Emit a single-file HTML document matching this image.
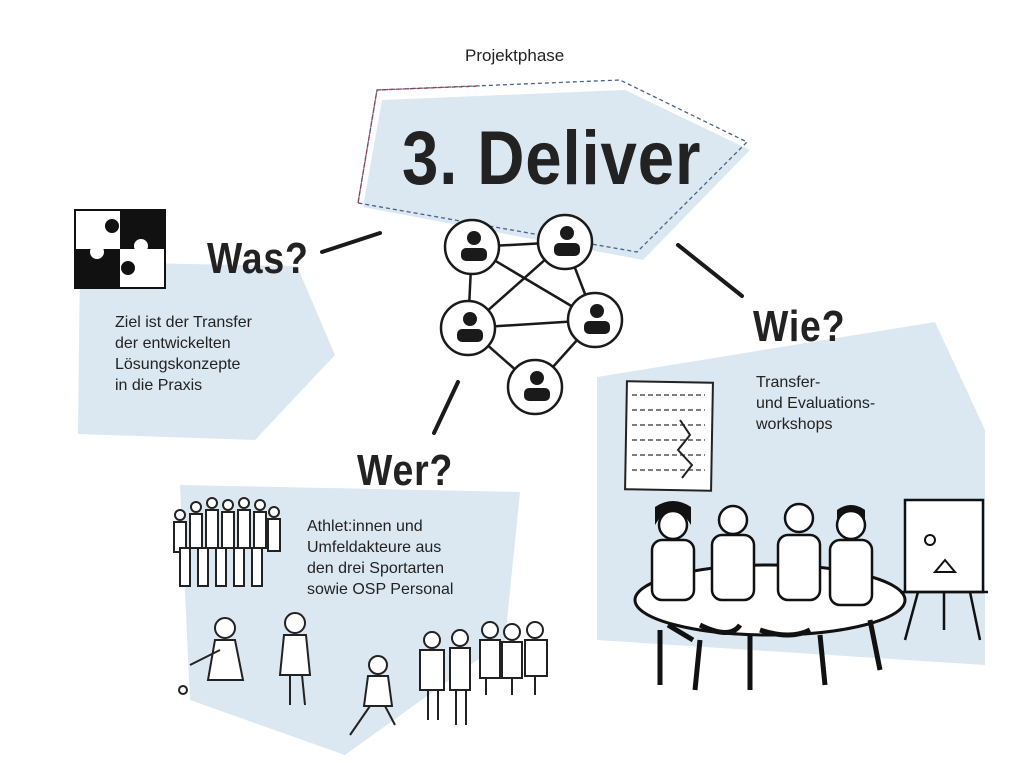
<!DOCTYPE html>
<html><head><meta charset="utf-8"><style>
body{margin:0;width:1024px;height:779px;background:#fff;overflow:hidden;font-family:"Liberation Sans",sans-serif;}
svg{position:absolute;left:0;top:0}
.t{position:absolute;color:#222;font-size:16px;line-height:21px}
.h{position:absolute;font-family:"Liberation Sans",sans-serif;font-weight:bold;color:#222;font-size:44px;letter-spacing:1px;transform:scaleX(0.85);transform-origin:left top}
</style></head><body>
<svg width="1024" height="779">
<g fill="#dbe7f1">
<polygon points="382,100 625,90 750,150 643,260 363,207"/>
<polygon points="80,262 297,266 335,355 255,440 78,434"/>
<polygon points="180,485 520,492 505,640 345,755 190,700"/>
<polygon points="597,377 935,322 985,430 985,665 597,640"/>
</g>
<polyline points="377,90 620,80 747,142 637,252 358,203 377,90" fill="none" stroke="#46638a" stroke-width="1.3" stroke-dasharray="4,3"/>
<polyline points="358,203 377,90 480,86" fill="none" stroke="#a0374f" stroke-width="1.3" stroke-dasharray="4,3"/>
<g stroke="#1a1a1a" stroke-width="4" stroke-linecap="round">
<line x1="322" y1="252" x2="380" y2="233"/>
<line x1="678" y1="245" x2="742" y2="296"/>
<line x1="458" y1="382" x2="434" y2="433"/>
</g>
<g stroke="#1a1a1a" stroke-width="2.5">
<line x1="472" y1="247" x2="565" y2="242"/><line x1="472" y1="247" x2="595" y2="320"/>
<line x1="472" y1="247" x2="468" y2="328"/><line x1="565" y1="242" x2="468" y2="328"/>
<line x1="565" y1="242" x2="595" y2="320"/><line x1="468" y1="328" x2="595" y2="320"/>
<line x1="468" y1="328" x2="535" y2="387"/><line x1="595" y1="320" x2="535" y2="387"/>
</g>
<g fill="#fff" stroke="#1a1a1a" stroke-width="2.5">
<circle cx="472" cy="247" r="27"/><circle cx="565" cy="242" r="27"/><circle cx="468" cy="328" r="27"/><circle cx="595" cy="320" r="27"/><circle cx="535" cy="387" r="27"/>
</g>
<g fill="#1a1a1a">
<circle cx="474" cy="238" r="7"/><rect x="461" y="248" width="26" height="13" rx="5"/>
<circle cx="567" cy="233" r="7"/><rect x="554" y="243" width="26" height="13" rx="5"/>
<circle cx="470" cy="319" r="7"/><rect x="457" y="329" width="26" height="13" rx="5"/>
<circle cx="597" cy="311" r="7"/><rect x="584" y="321" width="26" height="13" rx="5"/>
<circle cx="537" cy="378" r="7"/><rect x="524" y="388" width="26" height="13" rx="5"/>
</g>
<rect x="75" y="210" width="90" height="78" fill="#fff" stroke="#111" stroke-width="2"/>
<rect x="75" y="249" width="45" height="39" fill="#111"/><rect x="120" y="210" width="45" height="39" fill="#111"/>
<circle cx="112" cy="226" r="7" fill="#111"/><circle cx="141" cy="246" r="7" fill="#fff"/>
<circle cx="97" cy="252" r="7" fill="#fff"/><circle cx="128" cy="268" r="7" fill="#111"/>
<rect x="626" y="382" width="86" height="108" fill="#fff" stroke="#222" stroke-width="2" transform="rotate(1 670 436)"/>
<g stroke="#555" stroke-width="1.5" stroke-dasharray="5,3"><line x1="632" y1="395" x2="705" y2="395"/><line x1="632" y1="410" x2="705" y2="410"/><line x1="632" y1="425" x2="705" y2="425"/><line x1="632" y1="440" x2="705" y2="440"/><line x1="632" y1="455" x2="705" y2="455"/><line x1="632" y1="470" x2="705" y2="470"/></g>
<polyline points="680,420 690,435 678,450 692,465 682,478" fill="none" stroke="#222" stroke-width="2"/>
<ellipse cx="770" cy="600" rx="135" ry="35" fill="#fff" stroke="#111" stroke-width="3"/>
<g fill="#fff" stroke="#111" stroke-width="2.5">
<rect x="652" y="540" width="42" height="60" rx="10"/><rect x="712" y="535" width="42" height="65" rx="10"/><rect x="778" y="535" width="42" height="65" rx="10"/><rect x="830" y="540" width="42" height="65" rx="10"/>
<circle cx="673" cy="525" r="14"/><circle cx="733" cy="520" r="14"/><circle cx="799" cy="518" r="14"/><circle cx="851" cy="525" r="14"/>
</g>
<g fill="#111"><path d="M655,525 q18,-30 36,0 l0,-18 q-18,-12 -36,0z"/><path d="M837,520 q14,-18 28,0 l0,-10 q-14,-10 -28,0z"/></g>
<g stroke="#111" stroke-width="5" fill="none">
<path d="M660,630 l0,55 M700,640 l-5,50 M750,635 l0,55 M820,635 l5,50 M870,620 l10,50 M668,625 l25,15"/>
<path d="M700,625 q30,15 40,0 M760,630 q30,10 50,0"/>
</g>
<rect x="905" y="500" width="78" height="92" fill="#fff" stroke="#111" stroke-width="2.5"/>
<g stroke="#111" stroke-width="2.5"><line x1="918" y1="592" x2="905" y2="640"/><line x1="970" y1="592" x2="980" y2="640"/><line x1="944" y1="592" x2="944" y2="630"/><line x1="900" y1="592" x2="988" y2="592"/></g>
<circle cx="930" cy="540" r="5" fill="none" stroke="#111" stroke-width="2"/><polygon points="935,572 945,560 955,572" fill="none" stroke="#111" stroke-width="2"/>
<g fill="#fff" stroke="#222" stroke-width="2">
<circle cx="180" cy="515" r="5"/><circle cx="196" cy="507" r="5"/><circle cx="212" cy="503" r="5"/><circle cx="228" cy="505" r="5"/><circle cx="244" cy="503" r="5"/><circle cx="260" cy="505" r="5"/><circle cx="274" cy="512" r="5"/>
<rect x="174" y="522" width="12" height="30"/><rect x="190" y="514" width="12" height="34"/><rect x="206" y="510" width="12" height="38"/><rect x="222" y="512" width="12" height="36"/><rect x="238" y="510" width="12" height="38"/><rect x="254" y="512" width="12" height="36"/><rect x="268" y="519" width="12" height="32"/>
<rect x="180" y="548" width="10" height="38"/><rect x="198" y="548" width="10" height="38"/><rect x="216" y="548" width="10" height="38"/><rect x="234" y="548" width="10" height="38"/><rect x="252" y="548" width="10" height="38"/>
<circle cx="225" cy="628" r="10"/><path d="M215,640 l20,0 l8,40 l-35,0z"/><line x1="190" y1="665" x2="220" y2="650"/>
<circle cx="295" cy="623" r="10"/><path d="M284,635 l22,0 l4,40 l-30,0z"/><line x1="290" y1="675" x2="290" y2="705"/><line x1="302" y1="675" x2="305" y2="705"/>
<circle cx="378" cy="665" r="9"/><path d="M368,676 l20,0 l4,30 l-28,0z"/><line x1="370" y1="706" x2="350" y2="735"/><line x1="385" y1="706" x2="395" y2="725"/>
<circle cx="432" cy="640" r="8"/><circle cx="460" cy="638" r="8"/><circle cx="490" cy="630" r="8"/><circle cx="512" cy="632" r="8"/><circle cx="535" cy="630" r="8"/>
<rect x="420" y="650" width="24" height="40"/><rect x="450" y="648" width="20" height="42"/><rect x="480" y="640" width="20" height="38"/><rect x="502" y="642" width="20" height="36"/><rect x="525" y="640" width="22" height="36"/>
<line x1="428" y1="690" x2="428" y2="720"/><line x1="438" y1="690" x2="438" y2="720"/><line x1="456" y1="690" x2="456" y2="725"/><line x1="466" y1="690" x2="466" y2="725"/><line x1="486" y1="678" x2="486" y2="695"/><line x1="512" y1="678" x2="512" y2="695"/><line x1="535" y1="676" x2="535" y2="695"/>
</g>
<circle cx="183" cy="690" r="4" fill="#fff" stroke="#222" stroke-width="2"/>
</svg>
<div class="t" style="left:465px;top:45px;font-size:17px">Projektphase</div>
<div class="h" style="left:402px;top:115px;font-size:76px;transform:scaleX(0.86)">3. Deliver</div>
<div class="h" style="left:207px;top:234px">Was?</div>
<div class="h" style="left:357px;top:446px">Wer?</div>
<div class="h" style="left:753px;top:302px">Wie?</div>
<div class="t" style="left:115px;top:312px">Ziel ist der Transfer<br>der entwickelten<br>Lösungskonzepte<br>in die Praxis</div>
<div class="t" style="left:307px;top:516px">Athlet:innen und<br>Umfeldakteure aus<br>den drei Sportarten<br>sowie OSP Personal</div>
<div class="t" style="left:756px;top:372px">Transfer-<br>und Evaluations-<br>workshops</div>
</body></html>
